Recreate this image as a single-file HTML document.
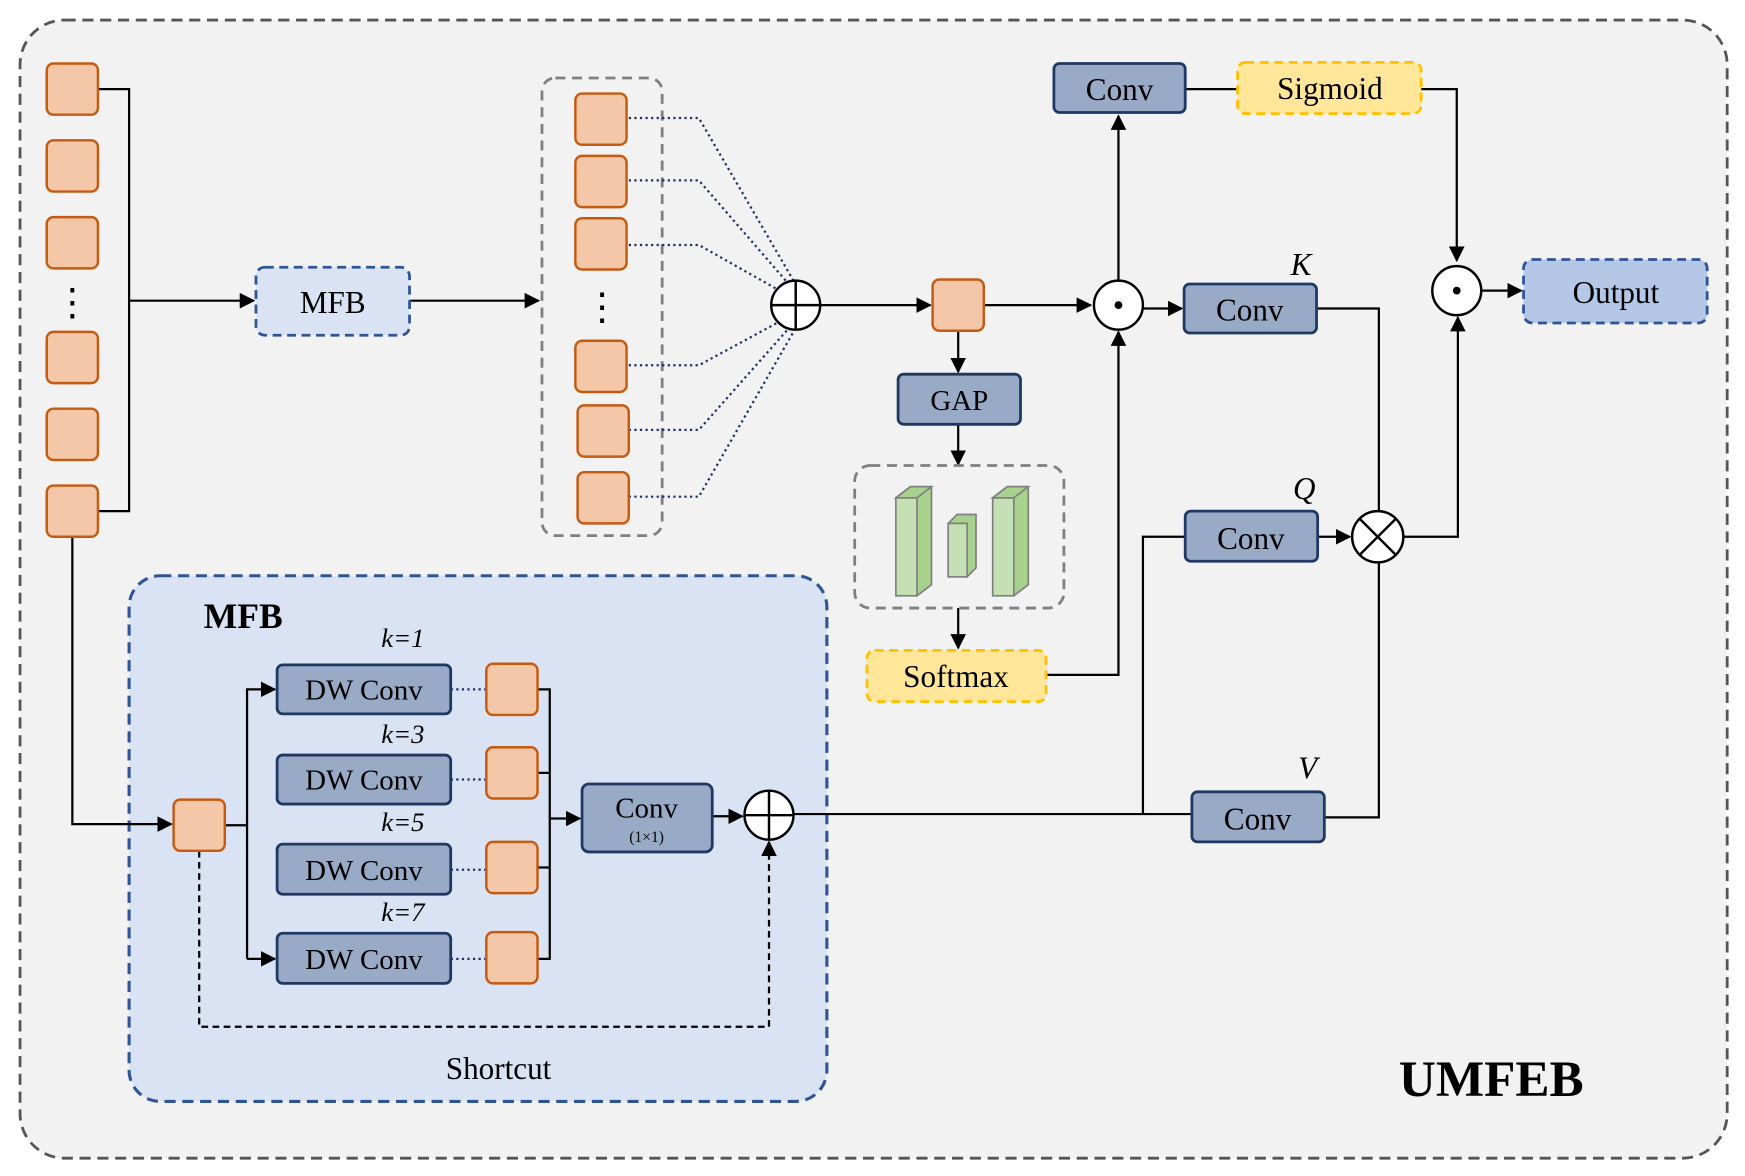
<!DOCTYPE html>
<html><head><meta charset="utf-8"><style>
html,body{margin:0;padding:0;background:#fff;}
svg{display:block;}
text{font-family:"Liberation Serif",serif;}
</style></head><body>
<svg width="1745" height="1176" viewBox="0 0 1568 1056" preserveAspectRatio="none" xmlns="http://www.w3.org/2000/svg">
<defs>
<marker id="a" viewBox="0 0 10 10" refX="9" refY="5" markerWidth="7" markerHeight="7" orient="auto"><path d="M0,0L10,5L0,10z" fill="#000"/></marker>
<g id="sq"><rect width="46" height="46" rx="6" fill="#f4c7a8" stroke="#c55a11" stroke-width="2.2"/></g>
</defs>
<rect x="18" y="18" width="1534" height="1022" rx="40" fill="#f2f2f2" stroke="#555" stroke-width="2.5" stroke-dasharray="10,6"/>

<!-- MFB big box (drawn early so lines go on top) -->
<rect x="116" y="517" width="627" height="472" rx="28" fill="#dae3f3" stroke="#2f5597" stroke-width="2.8" stroke-dasharray="10,6"/>
<text x="183" y="564" font-size="32" font-weight="bold">MFB</text>
<text x="448" y="969" font-size="28" text-anchor="middle">Shortcut</text>

<!-- left column -->
<g stroke="#000" stroke-width="2" fill="none">
<path d="M88,80H116V459H88"/>
<path d="M116,270H228" marker-end="url(#a)"/>
<path d="M368,270H484" marker-end="url(#a)"/>
<path d="M65,482V740H154" marker-end="url(#a)"/>
</g>
<use href="#sq" x="42" y="57"/><use href="#sq" x="42" y="126"/><use href="#sq" x="42" y="195"/>
<use href="#sq" x="42" y="298"/><use href="#sq" x="42" y="367"/><use href="#sq" x="42" y="436"/>
<text x="65" y="283" font-size="34" text-anchor="middle">⋮</text>

<rect x="230" y="240" width="138" height="61" rx="8" fill="#dae3f3" stroke="#2f5597" stroke-width="2.5" stroke-dasharray="8,5"/>
<text x="299" y="281" font-size="28" text-anchor="middle">MFB</text>

<rect x="487" y="70" width="108" height="411" rx="12" fill="none" stroke="#808080" stroke-width="2.5" stroke-dasharray="9,6"/>
<g stroke="#1f2d6a" stroke-width="2" stroke-dasharray="2,3" fill="none">
<path d="M565,106H628L713,252"/>
<path d="M565,162H628L713,260"/>
<path d="M565,220H628L713,268"/>
<path d="M565,328H628L713,282"/>
<path d="M565,386H628L713,290"/>
<path d="M565,446H628L713,298"/>
</g>
<use href="#sq" x="517" y="84"/><use href="#sq" x="517" y="140"/><use href="#sq" x="517" y="196"/>
<use href="#sq" x="517" y="306"/><use href="#sq" x="519" y="364"/><use href="#sq" x="519" y="424"/>
<text x="541" y="287" font-size="34" text-anchor="middle">⋮</text>

<circle cx="715" cy="274" r="22" fill="#fff" stroke="#000" stroke-width="2.2"/>
<path d="M693,274H737M715,252V296" stroke="#000" stroke-width="2.2"/>

<g stroke="#000" stroke-width="2" fill="none">
<path d="M737,274H836" marker-end="url(#a)"/>
<path d="M884,274H980" marker-end="url(#a)"/>
<path d="M861,297V334" marker-end="url(#a)"/>
<path d="M861,381V417" marker-end="url(#a)"/>
<path d="M861,546V582" marker-end="url(#a)"/>
<path d="M940,606H1005V298" marker-end="url(#a)"/>
<path d="M1005,252V104" marker-end="url(#a)"/>
<path d="M1065,80H1112"/>
<path d="M1277,80H1309V234" marker-end="url(#a)"/>
<path d="M1331,261H1367" marker-end="url(#a)"/>
<path d="M1027,277H1062" marker-end="url(#a)"/>
<path d="M1183,277H1239V459"/>
<path d="M1184,482H1213" marker-end="url(#a)"/>
<path d="M1065,482H1027V730"/>
<path d="M1261,482H1310V285" marker-end="url(#a)"/>
<path d="M1190,734H1239V505"/>
<path d="M713,731H1071"/>
</g>
<use href="#sq" x="838" y="251"/>

<rect x="807" y="336" width="110" height="45" rx="5" fill="#98aac6" stroke="#1f3864" stroke-width="2.5"/>
<text x="862" y="368" font-size="26" text-anchor="middle">GAP</text>

<rect x="768" y="418" width="188" height="128" rx="14" fill="none" stroke="#808080" stroke-width="2.5" stroke-dasharray="9,6"/>
<g stroke="#7f7f7f" stroke-width="1.5">
<path d="M805,447L818,437H837L837,525L824,535Z" fill="#a9d18e"/>
<rect x="805" y="447" width="19" height="88" fill="#c5e0b4"/>
<path d="M805,447L818,437H837L824,447Z" fill="#a9d18e"/>
<path d="M852,470L860,462H877V510L869,518Z" fill="#a9d18e"/>
<rect x="852" y="470" width="17" height="48" fill="#c5e0b4"/>
<path d="M892,447L905,437H924V525L911,535Z" fill="#a9d18e"/>
<rect x="892" y="447" width="19" height="88" fill="#c5e0b4"/>
<path d="M892,447L905,437H924L911,447Z" fill="#a9d18e"/>
</g>

<rect x="779" y="584" width="161" height="46" rx="7" fill="#ffe699" stroke="#ffc000" stroke-width="2.5" stroke-dasharray="8,5"/>
<text x="859" y="617" font-size="28" text-anchor="middle">Softmax</text>

<circle cx="1005" cy="274" r="22" fill="#fff" stroke="#000" stroke-width="2.2"/>
<circle cx="1005" cy="274" r="3.5" fill="#000"/>

<rect x="947" y="57" width="118" height="44" rx="5" fill="#98aac6" stroke="#1f3864" stroke-width="2.5"/>
<text x="1006" y="90" font-size="28" text-anchor="middle">Conv</text>
<rect x="1112" y="56" width="165" height="46" rx="7" fill="#ffe699" stroke="#ffc000" stroke-width="2.5" stroke-dasharray="8,5"/>
<text x="1195" y="89" font-size="28" text-anchor="middle">Sigmoid</text>

<circle cx="1309" cy="261" r="22" fill="#fff" stroke="#000" stroke-width="2.2"/>
<circle cx="1309" cy="261" r="3.5" fill="#000"/>
<rect x="1369" y="233" width="165" height="57" rx="8" fill="#b4c7e7" stroke="#2f5597" stroke-width="2.5" stroke-dasharray="8,5"/>
<text x="1452" y="272" font-size="28" text-anchor="middle">Output</text>

<rect x="1064" y="255" width="119" height="44" rx="5" fill="#98aac6" stroke="#1f3864" stroke-width="2.5"/>
<text x="1123" y="288" font-size="28" text-anchor="middle">Conv</text>
<text x="1169" y="247" font-size="28" font-style="italic" text-anchor="middle">K</text>

<rect x="1065" y="459" width="119" height="45" rx="5" fill="#98aac6" stroke="#1f3864" stroke-width="2.5"/>
<text x="1124" y="493" font-size="28" text-anchor="middle">Conv</text>
<text x="1172" y="448" font-size="28" font-style="italic" text-anchor="middle">Q</text>

<circle cx="1238" cy="482" r="23" fill="#fff" stroke="#000" stroke-width="2.2"/>
<path d="M1222,466L1254,498M1254,466L1222,498" stroke="#000" stroke-width="2.2"/>

<rect x="1071" y="711" width="119" height="45" rx="5" fill="#98aac6" stroke="#1f3864" stroke-width="2.5"/>
<text x="1130" y="745" font-size="28" text-anchor="middle">Conv</text>
<text x="1175" y="699" font-size="28" font-style="italic" text-anchor="middle">V</text>

<g stroke="#000" stroke-width="2" fill="none">
<path d="M202,741H222"/>
<path d="M222,861V619H247" marker-end="url(#a)"/>
<path d="M222,861H247" marker-end="url(#a)"/>
<path d="M482,619H494V861H482M482,694H494M482,779H494"/>
<path d="M494,735H521" marker-end="url(#a)"/>
<path d="M640,733H667" marker-end="url(#a)"/>
<path d="M179,764V922H691V756" stroke-dasharray="6,4" marker-end="url(#a)"/>
</g>
<g stroke="#1f2d6a" stroke-width="2" stroke-dasharray="2,3">
<path d="M405,619H437M405,700H437M405,781H437M405,861H437"/>
</g>
<use href="#sq" x="156" y="718"/>
<g font-size="26" text-anchor="middle">
<rect x="249" y="597" width="156" height="44" rx="5" fill="#98aac6" stroke="#1f3864" stroke-width="2.5"/>
<text x="327" y="628">DW Conv</text>
<rect x="249" y="678" width="156" height="44" rx="5" fill="#98aac6" stroke="#1f3864" stroke-width="2.5"/>
<text x="327" y="709">DW Conv</text>
<rect x="249" y="758" width="156" height="45" rx="5" fill="#98aac6" stroke="#1f3864" stroke-width="2.5"/>
<text x="327" y="790">DW Conv</text>
<rect x="249" y="838" width="156" height="45" rx="5" fill="#98aac6" stroke="#1f3864" stroke-width="2.5"/>
<text x="327" y="870">DW Conv</text>
</g>
<g font-size="24" font-style="italic" text-anchor="middle">
<text x="362" y="581">k=1</text><text x="362" y="667">k=3</text>
<text x="362" y="746">k=5</text><text x="362" y="827">k=7</text>
</g>
<use href="#sq" x="437" y="596"/><use href="#sq" x="437" y="671"/>
<use href="#sq" x="437" y="756"/><use href="#sq" x="437" y="837"/>

<rect x="523" y="704" width="117" height="61" rx="6" fill="#98aac6" stroke="#1f3864" stroke-width="2.5"/>
<text x="581" y="734" font-size="26" text-anchor="middle">Conv</text>
<text x="581" y="756" font-size="14" text-anchor="middle">(1×1)</text>

<circle cx="691" cy="732" r="22" fill="#fff" stroke="#000" stroke-width="2.2"/>
<path d="M669,732H713M691,710V754" stroke="#000" stroke-width="2.2"/>

<text x="1340" y="984" font-size="46" font-weight="bold" text-anchor="middle">UMFEB</text>
</svg>
</body></html>
